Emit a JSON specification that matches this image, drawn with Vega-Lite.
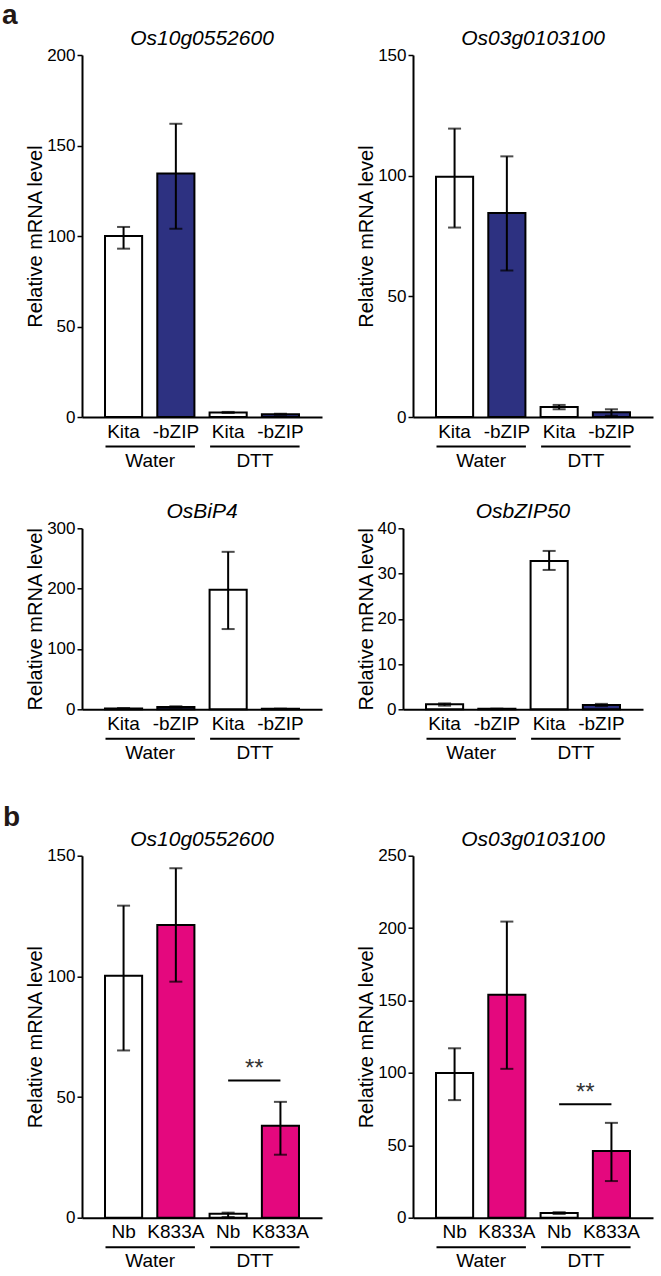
{
  "$schema": "https://vega.github.io/schema/vega-lite/v6.json",
  "padding": {"left": 2, "top": 2, "right": 5, "bottom": 1},
  "spacing": 40.7,
  "datasets": {
    "bars": [
      {"panel": "A1", "grp": "Water|Kita", "geno": "Kita", "mean": 100, "lo": 93, "hi": 105},
      {"panel": "A1", "grp": "Water|-bZIP", "geno": "-bZIP", "mean": 134.5, "lo": 104, "hi": 162},
      {"panel": "A1", "grp": "DTT|Kita", "geno": "Kita", "mean": 2.5, "lo": 2.2, "hi": 2.8},
      {"panel": "A1", "grp": "DTT|-bZIP", "geno": "-bZIP", "mean": 1.5, "lo": 1.2, "hi": 1.8},
      {"panel": "A2", "grp": "Water|Kita", "geno": "Kita", "mean": 99.5, "lo": 78.5, "hi": 119.5},
      {"panel": "A2", "grp": "Water|-bZIP", "geno": "-bZIP", "mean": 84.5, "lo": 60.7, "hi": 108},
      {"panel": "A2", "grp": "DTT|Kita", "geno": "Kita", "mean": 4.1, "lo": 3.2, "hi": 5.0},
      {"panel": "A2", "grp": "DTT|-bZIP", "geno": "-bZIP", "mean": 2.0, "lo": 0.5, "hi": 3.2},
      {"panel": "A3", "grp": "Water|Kita", "geno": "Kita", "mean": 1.5, "lo": 1.2, "hi": 1.8},
      {"panel": "A3", "grp": "Water|-bZIP", "geno": "-bZIP", "mean": 4, "lo": 3, "hi": 5},
      {"panel": "A3", "grp": "DTT|Kita", "geno": "Kita", "mean": 198, "lo": 133, "hi": 261},
      {"panel": "A3", "grp": "DTT|-bZIP", "geno": "-bZIP", "mean": 0.8, "lo": 0.5, "hi": 1.1},
      {"panel": "A4", "grp": "Water|Kita", "geno": "Kita", "mean": 1.1, "lo": 0.8, "hi": 1.3},
      {"panel": "A4", "grp": "Water|-bZIP", "geno": "-bZIP", "mean": 0.1, "lo": 0.05, "hi": 0.15},
      {"panel": "A4", "grp": "DTT|Kita", "geno": "Kita", "mean": 32.8, "lo": 30.8, "hi": 35},
      {"panel": "A4", "grp": "DTT|-bZIP", "geno": "-bZIP", "mean": 0.95, "lo": 0.7, "hi": 1.2},
      {"panel": "B1", "grp": "Water|Nb", "geno": "Nb", "mean": 100.3, "lo": 69.3, "hi": 129.3},
      {"panel": "B1", "grp": "Water|K833A", "geno": "K833A", "mean": 121.3, "lo": 97.8, "hi": 144.8},
      {"panel": "B1", "grp": "DTT|Nb", "geno": "Nb", "mean": 1.6, "lo": 0.3, "hi": 2.1},
      {"panel": "B1", "grp": "DTT|K833A", "geno": "K833A", "mean": 38.1, "lo": 26.1, "hi": 48},
      {"panel": "B2", "grp": "Water|Nb", "geno": "Nb", "mean": 100, "lo": 81.2, "hi": 117},
      {"panel": "B2", "grp": "Water|K833A", "geno": "K833A", "mean": 153.9, "lo": 102.8, "hi": 204.5},
      {"panel": "B2", "grp": "DTT|Nb", "geno": "Nb", "mean": 3.2, "lo": 2.6, "hi": 3.8},
      {"panel": "B2", "grp": "DTT|K833A", "geno": "K833A", "mean": 46, "lo": 25.3, "hi": 65.5}
    ],
    "treats": [
      {"panel": "A1", "treat": "Water", "sig": "", "sigy": 0},
      {"panel": "A1", "treat": "DTT", "sig": "", "sigy": 0},
      {"panel": "A2", "treat": "Water", "sig": "", "sigy": 0},
      {"panel": "A2", "treat": "DTT", "sig": "", "sigy": 0},
      {"panel": "A3", "treat": "Water", "sig": "", "sigy": 0},
      {"panel": "A3", "treat": "DTT", "sig": "", "sigy": 0},
      {"panel": "A4", "treat": "Water", "sig": "", "sigy": 0},
      {"panel": "A4", "treat": "DTT", "sig": "", "sigy": 0},
      {"panel": "B1", "treat": "Water", "sig": "", "sigy": 0},
      {"panel": "B1", "treat": "DTT", "sig": "**", "sigy": 61.5},
      {"panel": "B2", "treat": "Water", "sig": "", "sigy": 0},
      {"panel": "B2", "treat": "DTT", "sig": "**", "sigy": 86}
    ],
    "sig": [
      {"panel": "B1", "from": "DTT|Nb", "to": "DTT|K833A", "y": 56.9},
      {"panel": "B2", "from": "DTT|Nb", "to": "DTT|K833A", "y": 78.4}
    ]
  },
  "config": {
    "font": "Liberation Sans",
    "view": {"stroke": null},
    "axis": {"grid": false, "domainColor": "black", "domainWidth": 2, "tickColor": "black", "labelColor": "black", "titleColor": "black", "labelFont": "Liberation Sans", "titleFont": "Liberation Sans", "titleFontWeight": "normal"},
    "axisX": {"ticks": false, "labelAngle": 0, "labelFontSize": 19, "labelPadding": 5, "title": null},
    "axisY": {"labelFontSize": 17, "tickSize": 5, "tickWidth": 1.5, "titleFontSize": 20, "labelPadding": 2, "titlePadding": 1},
    "title": {"fontSize": 21, "fontStyle": "italic", "fontWeight": "normal", "font": "Liberation Sans", "color": "black", "offset": -3},
    "concat": {"spacing": 34}
  },
  "vconcat": [
    {
      "spacing": 31.3,
      "vconcat": [
        {
          "title": {"text": "a", "anchor": "start", "frame": "group", "fontSize": 28, "fontWeight": "bold", "fontStyle": "normal", "color": "#231815", "dx": -80, "offset": -2},
          "hconcat": [
            {
              "width": 240, "height": 362,
              "title": "Os10g0552600",
              "layer": [
                {"layer": [
                  {"data": {"name": "bars"}, "transform": [{"filter": "datum.panel === 'A1'"}],
                   "mark": {"type": "bar", "stroke": "black", "strokeWidth": 2},
                   "encoding": {
                     "x": {"field": "grp", "type": "nominal", "scale": {"domain": ["Water|Kita", "Water|-bZIP", "DTT|Kita", "DTT|-bZIP"], "paddingInner": 0.29, "paddingOuter": 0.44}, "axis": {"orient": "bottom", "labelExpr": "split(datum.value, '|')[1]"}},
                     "y": {"field": "mean", "type": "quantitative", "scale": {"domain": [0, 200], "nice": false}, "axis": {"values": [0, 50, 100, 150, 200], "title": "Relative mRNA level"}},
                     "fill": {"field": "geno", "type": "nominal", "scale": {"domain": ["Kita", "-bZIP", "Nb", "K833A"], "range": ["#ffffff", "#2d3181", "#ffffff", "#e4087e"]}, "legend": null}
                   }},
                  {"data": {"name": "bars"}, "transform": [{"filter": "datum.panel === 'A1'"}],
                   "mark": {"type": "errorbar", "ticks": true, "thickness": 2, "size": 13, "color": "black"},
                   "encoding": {
                     "x": {"field": "grp", "type": "nominal"},
                     "y": {"field": "lo", "type": "quantitative", "scale": {"domain": [0, 200], "nice": false}, "title": "Relative mRNA level"},
                     "y2": {"field": "hi"}
                   }}
                ]},
                {"data": {"name": "treats"}, "transform": [{"filter": "datum.panel === 'A1' && datum.treat === 'Water'"}],
                 "mark": {"type": "text", "fontSize": 24},
                 "encoding": {"x": {"field": "treat", "type": "nominal", "scale": {"domain": ["Water"], "range": [23, 112.4], "paddingInner": 0, "paddingOuter": 0}, "axis": {"orient": "bottom", "offset": 29}},
                              "y": {"field": "sigy", "type": "quantitative", "scale": {"domain": [0, 200], "nice": false}, "title": "Relative mRNA level"}, "text": {"field": "sig"}}},
                {"data": {"name": "treats"}, "transform": [{"filter": "datum.panel === 'A1' && datum.treat === 'DTT'"}],
                 "mark": {"type": "text", "fontSize": 24},
                 "encoding": {"x": {"field": "treat", "type": "nominal", "scale": {"domain": ["DTT"], "range": [127.6, 217.1], "paddingInner": 0, "paddingOuter": 0}, "axis": {"orient": "bottom", "offset": 29}},
                              "y": {"field": "sigy", "type": "quantitative", "scale": {"domain": [0, 200], "nice": false}, "title": "Relative mRNA level"}, "text": {"field": "sig"}}}
              ],
              "resolve": {"scale": {"x": "independent"}, "axis": {"x": "independent"}}
            },
            {
              "width": 240, "height": 362,
              "title": "Os03g0103100",
              "layer": [
                {"layer": [
                  {"data": {"name": "bars"}, "transform": [{"filter": "datum.panel === 'A2'"}],
                   "mark": {"type": "bar", "stroke": "black", "strokeWidth": 2},
                   "encoding": {
                     "x": {"field": "grp", "type": "nominal", "scale": {"domain": ["Water|Kita", "Water|-bZIP", "DTT|Kita", "DTT|-bZIP"], "paddingInner": 0.29, "paddingOuter": 0.44}, "axis": {"orient": "bottom", "labelExpr": "split(datum.value, '|')[1]"}},
                     "y": {"field": "mean", "type": "quantitative", "scale": {"domain": [0, 150], "nice": false}, "axis": {"values": [0, 50, 100, 150], "title": "Relative mRNA level"}},
                     "fill": {"field": "geno", "type": "nominal", "scale": {"domain": ["Kita", "-bZIP", "Nb", "K833A"], "range": ["#ffffff", "#2d3181", "#ffffff", "#e4087e"]}, "legend": null}
                   }},
                  {"data": {"name": "bars"}, "transform": [{"filter": "datum.panel === 'A2'"}],
                   "mark": {"type": "errorbar", "ticks": true, "thickness": 2, "size": 13, "color": "black"},
                   "encoding": {
                     "x": {"field": "grp", "type": "nominal"},
                     "y": {"field": "lo", "type": "quantitative", "scale": {"domain": [0, 150], "nice": false}, "title": "Relative mRNA level"},
                     "y2": {"field": "hi"}
                   }}
                ]},
                {"data": {"name": "treats"}, "transform": [{"filter": "datum.panel === 'A2' && datum.treat === 'Water'"}],
                 "mark": {"type": "text", "fontSize": 24},
                 "encoding": {"x": {"field": "treat", "type": "nominal", "scale": {"domain": ["Water"], "range": [23, 112.4], "paddingInner": 0, "paddingOuter": 0}, "axis": {"orient": "bottom", "offset": 29}},
                              "y": {"field": "sigy", "type": "quantitative", "scale": {"domain": [0, 150], "nice": false}, "title": "Relative mRNA level"}, "text": {"field": "sig"}}},
                {"data": {"name": "treats"}, "transform": [{"filter": "datum.panel === 'A2' && datum.treat === 'DTT'"}],
                 "mark": {"type": "text", "fontSize": 24},
                 "encoding": {"x": {"field": "treat", "type": "nominal", "scale": {"domain": ["DTT"], "range": [127.6, 217.1], "paddingInner": 0, "paddingOuter": 0}, "axis": {"orient": "bottom", "offset": 29}},
                              "y": {"field": "sigy", "type": "quantitative", "scale": {"domain": [0, 150], "nice": false}, "title": "Relative mRNA level"}, "text": {"field": "sig"}}}
              ],
              "resolve": {"scale": {"x": "independent"}, "axis": {"x": "independent"}}
            }
          ]
        },
        {
          "hconcat": [
            {
              "width": 240, "height": 181,
              "title": "OsBiP4",
              "layer": [
                {"layer": [
                  {"data": {"name": "bars"}, "transform": [{"filter": "datum.panel === 'A3'"}],
                   "mark": {"type": "bar", "stroke": "black", "strokeWidth": 2},
                   "encoding": {
                     "x": {"field": "grp", "type": "nominal", "scale": {"domain": ["Water|Kita", "Water|-bZIP", "DTT|Kita", "DTT|-bZIP"], "paddingInner": 0.29, "paddingOuter": 0.44}, "axis": {"orient": "bottom", "labelExpr": "split(datum.value, '|')[1]"}},
                     "y": {"field": "mean", "type": "quantitative", "scale": {"domain": [0, 300], "nice": false}, "axis": {"values": [0, 100, 200, 300], "title": "Relative mRNA level"}},
                     "fill": {"field": "geno", "type": "nominal", "scale": {"domain": ["Kita", "-bZIP", "Nb", "K833A"], "range": ["#ffffff", "#2d3181", "#ffffff", "#e4087e"]}, "legend": null}
                   }},
                  {"data": {"name": "bars"}, "transform": [{"filter": "datum.panel === 'A3'"}],
                   "mark": {"type": "errorbar", "ticks": true, "thickness": 2, "size": 13, "color": "black"},
                   "encoding": {
                     "x": {"field": "grp", "type": "nominal"},
                     "y": {"field": "lo", "type": "quantitative", "scale": {"domain": [0, 300], "nice": false}, "title": "Relative mRNA level"},
                     "y2": {"field": "hi"}
                   }}
                ]},
                {"data": {"name": "treats"}, "transform": [{"filter": "datum.panel === 'A3' && datum.treat === 'Water'"}],
                 "mark": {"type": "text", "fontSize": 24},
                 "encoding": {"x": {"field": "treat", "type": "nominal", "scale": {"domain": ["Water"], "range": [23, 112.4], "paddingInner": 0, "paddingOuter": 0}, "axis": {"orient": "bottom", "offset": 29}},
                              "y": {"field": "sigy", "type": "quantitative", "scale": {"domain": [0, 300], "nice": false}, "title": "Relative mRNA level"}, "text": {"field": "sig"}}},
                {"data": {"name": "treats"}, "transform": [{"filter": "datum.panel === 'A3' && datum.treat === 'DTT'"}],
                 "mark": {"type": "text", "fontSize": 24},
                 "encoding": {"x": {"field": "treat", "type": "nominal", "scale": {"domain": ["DTT"], "range": [127.6, 217.1], "paddingInner": 0, "paddingOuter": 0}, "axis": {"orient": "bottom", "offset": 29}},
                              "y": {"field": "sigy", "type": "quantitative", "scale": {"domain": [0, 300], "nice": false}, "title": "Relative mRNA level"}, "text": {"field": "sig"}}}
              ],
              "resolve": {"scale": {"x": "independent"}, "axis": {"x": "independent"}}
            },
            {
              "width": 240, "height": 181,
              "title": "OsbZIP50",
              "layer": [
                {"layer": [
                  {"data": {"name": "bars"}, "transform": [{"filter": "datum.panel === 'A4'"}],
                   "mark": {"type": "bar", "stroke": "black", "strokeWidth": 2},
                   "encoding": {
                     "x": {"field": "grp", "type": "nominal", "scale": {"domain": ["Water|Kita", "Water|-bZIP", "DTT|Kita", "DTT|-bZIP"], "paddingInner": 0.29, "paddingOuter": 0.44}, "axis": {"orient": "bottom", "labelExpr": "split(datum.value, '|')[1]"}},
                     "y": {"field": "mean", "type": "quantitative", "scale": {"domain": [0, 40], "nice": false}, "axis": {"values": [0, 10, 20, 30, 40], "title": "Relative mRNA level"}},
                     "fill": {"field": "geno", "type": "nominal", "scale": {"domain": ["Kita", "-bZIP", "Nb", "K833A"], "range": ["#ffffff", "#2d3181", "#ffffff", "#e4087e"]}, "legend": null}
                   }},
                  {"data": {"name": "bars"}, "transform": [{"filter": "datum.panel === 'A4'"}],
                   "mark": {"type": "errorbar", "ticks": true, "thickness": 2, "size": 13, "color": "black"},
                   "encoding": {
                     "x": {"field": "grp", "type": "nominal"},
                     "y": {"field": "lo", "type": "quantitative", "scale": {"domain": [0, 40], "nice": false}, "title": "Relative mRNA level"},
                     "y2": {"field": "hi"}
                   }}
                ]},
                {"data": {"name": "treats"}, "transform": [{"filter": "datum.panel === 'A4' && datum.treat === 'Water'"}],
                 "mark": {"type": "text", "fontSize": 24},
                 "encoding": {"x": {"field": "treat", "type": "nominal", "scale": {"domain": ["Water"], "range": [23, 112.4], "paddingInner": 0, "paddingOuter": 0}, "axis": {"orient": "bottom", "offset": 29}},
                              "y": {"field": "sigy", "type": "quantitative", "scale": {"domain": [0, 40], "nice": false}, "title": "Relative mRNA level"}, "text": {"field": "sig"}}},
                {"data": {"name": "treats"}, "transform": [{"filter": "datum.panel === 'A4' && datum.treat === 'DTT'"}],
                 "mark": {"type": "text", "fontSize": 24},
                 "encoding": {"x": {"field": "treat", "type": "nominal", "scale": {"domain": ["DTT"], "range": [127.6, 217.1], "paddingInner": 0, "paddingOuter": 0}, "axis": {"orient": "bottom", "offset": 29}},
                              "y": {"field": "sigy", "type": "quantitative", "scale": {"domain": [0, 40], "nice": false}, "title": "Relative mRNA level"}, "text": {"field": "sig"}}}
              ],
              "resolve": {"scale": {"x": "independent"}, "axis": {"x": "independent"}}
            }
          ]
        }
      ]
    },
    {
      "title": {"text": "b", "anchor": "start", "frame": "group", "fontSize": 28, "fontWeight": "bold", "fontStyle": "normal", "color": "#231815", "dx": -79, "offset": -3.5},
      "hconcat": [
        {
          "width": 240, "height": 362,
          "title": "Os10g0552600",
          "layer": [
            {"layer": [
              {"data": {"name": "bars"}, "transform": [{"filter": "datum.panel === 'B1'"}],
               "mark": {"type": "bar", "stroke": "black", "strokeWidth": 2},
               "encoding": {
                 "x": {"field": "grp", "type": "nominal", "scale": {"domain": ["Water|Nb", "Water|K833A", "DTT|Nb", "DTT|K833A"], "paddingInner": 0.29, "paddingOuter": 0.44}, "axis": {"orient": "bottom", "labelExpr": "split(datum.value, '|')[1]"}},
                 "y": {"field": "mean", "type": "quantitative", "scale": {"domain": [0, 150], "nice": false}, "axis": {"values": [0, 50, 100, 150], "title": "Relative mRNA level"}},
                 "fill": {"field": "geno", "type": "nominal", "scale": {"domain": ["Kita", "-bZIP", "Nb", "K833A"], "range": ["#ffffff", "#2d3181", "#ffffff", "#e4087e"]}, "legend": null}
               }},
              {"data": {"name": "bars"}, "transform": [{"filter": "datum.panel === 'B1'"}],
               "mark": {"type": "errorbar", "ticks": true, "thickness": 2, "size": 13, "color": "black"},
               "encoding": {
                 "x": {"field": "grp", "type": "nominal"},
                 "y": {"field": "lo", "type": "quantitative", "scale": {"domain": [0, 150], "nice": false}, "title": "Relative mRNA level"},
                 "y2": {"field": "hi"}
               }},
              {"data": {"name": "sig"}, "transform": [{"filter": "datum.panel === 'B1'"}],
               "mark": {"type": "rule", "strokeWidth": 2, "color": "black"},
               "encoding": {
                 "x": {"field": "from", "type": "nominal"},
                 "x2": {"field": "to"},
                 "y": {"field": "y", "type": "quantitative", "scale": {"domain": [0, 150], "nice": false}, "title": "Relative mRNA level"}
               }}
            ]},
            {"data": {"name": "treats"}, "transform": [{"filter": "datum.panel === 'B1' && datum.treat === 'Water'"}],
             "mark": {"type": "text", "fontSize": 24, "color": "#333333"},
             "encoding": {"x": {"field": "treat", "type": "nominal", "scale": {"domain": ["Water"], "range": [23, 112.4], "paddingInner": 0, "paddingOuter": 0}, "axis": {"orient": "bottom", "offset": 29}},
                          "y": {"field": "sigy", "type": "quantitative", "scale": {"domain": [0, 150], "nice": false}, "title": "Relative mRNA level"}, "text": {"field": "sig"}}},
            {"data": {"name": "treats"}, "transform": [{"filter": "datum.panel === 'B1' && datum.treat === 'DTT'"}],
             "mark": {"type": "text", "fontSize": 24, "color": "#333333"},
             "encoding": {"x": {"field": "treat", "type": "nominal", "scale": {"domain": ["DTT"], "range": [127.6, 217.1], "paddingInner": 0, "paddingOuter": 0}, "axis": {"orient": "bottom", "offset": 29}},
                          "y": {"field": "sigy", "type": "quantitative", "scale": {"domain": [0, 150], "nice": false}, "title": "Relative mRNA level"}, "text": {"field": "sig"}}}
          ],
          "resolve": {"scale": {"x": "independent"}, "axis": {"x": "independent"}}
        },
        {
          "width": 240, "height": 362,
          "title": "Os03g0103100",
          "layer": [
            {"layer": [
              {"data": {"name": "bars"}, "transform": [{"filter": "datum.panel === 'B2'"}],
               "mark": {"type": "bar", "stroke": "black", "strokeWidth": 2},
               "encoding": {
                 "x": {"field": "grp", "type": "nominal", "scale": {"domain": ["Water|Nb", "Water|K833A", "DTT|Nb", "DTT|K833A"], "paddingInner": 0.29, "paddingOuter": 0.44}, "axis": {"orient": "bottom", "labelExpr": "split(datum.value, '|')[1]"}},
                 "y": {"field": "mean", "type": "quantitative", "scale": {"domain": [0, 250], "nice": false}, "axis": {"values": [0, 50, 100, 150, 200, 250], "title": "Relative mRNA level"}},
                 "fill": {"field": "geno", "type": "nominal", "scale": {"domain": ["Kita", "-bZIP", "Nb", "K833A"], "range": ["#ffffff", "#2d3181", "#ffffff", "#e4087e"]}, "legend": null}
               }},
              {"data": {"name": "bars"}, "transform": [{"filter": "datum.panel === 'B2'"}],
               "mark": {"type": "errorbar", "ticks": true, "thickness": 2, "size": 13, "color": "black"},
               "encoding": {
                 "x": {"field": "grp", "type": "nominal"},
                 "y": {"field": "lo", "type": "quantitative", "scale": {"domain": [0, 250], "nice": false}, "title": "Relative mRNA level"},
                 "y2": {"field": "hi"}
               }},
              {"data": {"name": "sig"}, "transform": [{"filter": "datum.panel === 'B2'"}],
               "mark": {"type": "rule", "strokeWidth": 2, "color": "black"},
               "encoding": {
                 "x": {"field": "from", "type": "nominal"},
                 "x2": {"field": "to"},
                 "y": {"field": "y", "type": "quantitative", "scale": {"domain": [0, 250], "nice": false}, "title": "Relative mRNA level"}
               }}
            ]},
            {"data": {"name": "treats"}, "transform": [{"filter": "datum.panel === 'B2' && datum.treat === 'Water'"}],
             "mark": {"type": "text", "fontSize": 24, "color": "#333333"},
             "encoding": {"x": {"field": "treat", "type": "nominal", "scale": {"domain": ["Water"], "range": [23, 112.4], "paddingInner": 0, "paddingOuter": 0}, "axis": {"orient": "bottom", "offset": 29}},
                          "y": {"field": "sigy", "type": "quantitative", "scale": {"domain": [0, 250], "nice": false}, "title": "Relative mRNA level"}, "text": {"field": "sig"}}},
            {"data": {"name": "treats"}, "transform": [{"filter": "datum.panel === 'B2' && datum.treat === 'DTT'"}],
             "mark": {"type": "text", "fontSize": 24, "color": "#333333"},
             "encoding": {"x": {"field": "treat", "type": "nominal", "scale": {"domain": ["DTT"], "range": [127.6, 217.1], "paddingInner": 0, "paddingOuter": 0}, "axis": {"orient": "bottom", "offset": 29}},
                          "y": {"field": "sigy", "type": "quantitative", "scale": {"domain": [0, 250], "nice": false}, "title": "Relative mRNA level"}, "text": {"field": "sig"}}}
          ],
          "resolve": {"scale": {"x": "independent"}, "axis": {"x": "independent"}}
        }
      ]
    }
  ]
}
